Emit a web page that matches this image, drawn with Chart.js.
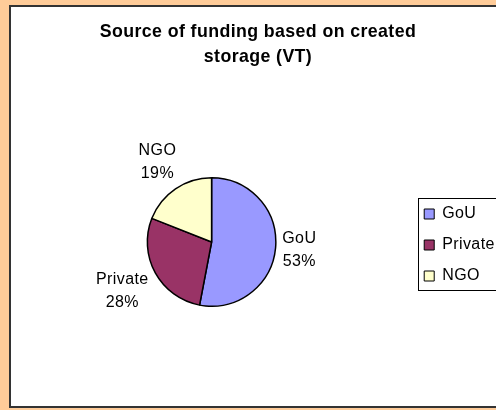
<!DOCTYPE html>
<html>
<head>
<meta charset="utf-8">
<script src="https://cdn.jsdelivr.net/npm/chart.js@4/dist/chart.umd.min.js"></script>
<style>
  html, body { margin: 0; padding: 0; background: #FFCC99; overflow: hidden; }
  canvas { display: block; }
</style>
</head>
<body>
<canvas id="chart" width="496" height="410"></canvas>
<script>
// Funding sources, as share of created storage (VT), in percent
const categories = ['GoU', 'Private', 'NGO'];
const shares = [53, 28, 19];
const sliceColors = ['#9999FF', '#993366', '#FFFFCC'];
const titleLines = ['Source of funding based on created', 'storage (VT)'];

const FONT = "'Liberation Sans', Arial, Helvetica, sans-serif";
const TEXT_SPACING = '0.4px';

// Peach page with a white, dark-edged chart panel
const framePlugin = {
  id: 'frame',
  beforeDraw(chart) {
    const ctx = chart.ctx;
    ctx.save();
    ctx.fillStyle = '#FFCC99';
    ctx.fillRect(0, 0, chart.width, chart.height);
    ctx.fillStyle = '#FFFFFF';
    ctx.fillRect(10, 6, chart.width, 401);
    ctx.strokeStyle = '#333333';
    ctx.lineWidth = 2;
    ctx.strokeRect(10, 6, chart.width + 10, 401);
    ctx.restore();
    // slightly open letter spacing for all chart text
    if ('letterSpacing' in ctx) ctx.letterSpacing = TEXT_SPACING;
  },
  afterDraw(chart) {
    const ctx = chart.ctx;
    if ('letterSpacing' in ctx) ctx.letterSpacing = '0px';
  }
};

// Border around the legend items
const legendBoxPlugin = {
  id: 'legendBox',
  afterDraw(chart) {
    const lg = chart.legend;
    if (!lg || !lg.legendHitBoxes || !lg.legendHitBoxes.length) return;
    const hb = lg.legendHitBoxes;
    const first = hb[0], last = hb[hb.length - 1];
    const ctx = chart.ctx;
    ctx.save();
    ctx.strokeStyle = '#000000';
    ctx.lineWidth = 1;
    const x = Math.round(first.left - 6) + 0.5;
    const y = Math.round(first.top - 8) + 0.5;
    const b = Math.round(last.top + last.height + 6) + 0.5;
    ctx.strokeRect(x, y, chart.width, b - y);
    ctx.restore();
  }
};

// Category name and percentage placed just outside each slice
const sliceLabelPlugin = {
  id: 'sliceLabels',
  afterDatasetsDraw(chart) {
    const meta = chart.getDatasetMeta(0);
    const ctx = chart.ctx;
    const lineH = 23.5;
    const gap = 5;
    ctx.save();
    ctx.font = '16px ' + FONT;
    ctx.fillStyle = '#000000';
    ctx.textAlign = 'center';
    ctx.textBaseline = 'middle';
    meta.data.forEach((arc, i) => {
      const p = arc.getProps(['x', 'y', 'startAngle', 'endAngle', 'outerRadius'], true);
      const mid = (p.startAngle + p.endAngle) / 2;
      const lines = [categories[i], shares[i] + '%'];
      const w = Math.max(...lines.map(t => ctx.measureText(t).width));
      const h = lineH * lines.length - 7;
      const c = Math.cos(mid), s = Math.sin(mid);
      // push the text block out until its nearest edge sits `gap` px off the rim
      const reach = p.outerRadius + gap + Math.abs(c) * w / 2 + Math.abs(s) * h / 2;
      const ax = p.x + reach * c;
      const ay = p.y + reach * s;
      lines.forEach((t, k) => {
        ctx.fillText(t, ax, ay - (lines.length - 1) * lineH / 2 + k * lineH);
      });
    });
    ctx.restore();
  }
};

new Chart(document.getElementById('chart'), {
  type: 'pie',
  data: {
    labels: categories,
    datasets: [{
      data: shares,
      backgroundColor: sliceColors,
      borderColor: '#000000',
      borderWidth: 1.5
    }]
  },
  options: {
    responsive: false,
    animation: false,
    layout: { padding: { left: 14, right: -6, top: 6, bottom: 103 } },
    plugins: {
      title: {
        display: true,
        text: titleLines,
        color: '#000000',
        font: { family: FONT, size: 17.75, weight: 'bold', lineHeight: 25 / 17.75 },
        padding: { top: 13.5, bottom: 107.5 }
      },
      legend: {
        position: 'right',
        fullSize: false,
        // empty heading strip, only used to drop the item column a little
        title: { display: true, text: '', font: { size: 6, lineHeight: 1 }, padding: 0 },
        labels: {
          color: '#000000',
          font: { family: FONT, size: 16 },
          boxWidth: 10,
          boxHeight: 10,
          padding: 15,
          generateLabels(chart) {
            const items = Chart.overrides.pie.plugins.legend.labels.generateLabels(chart);
            items.forEach(it => { it.lineWidth = 1; });
            return items;
          }
        }
      },
      tooltip: { enabled: false }
    }
  },
  plugins: [framePlugin, legendBoxPlugin, sliceLabelPlugin]
});
</script>
</body>
</html>
